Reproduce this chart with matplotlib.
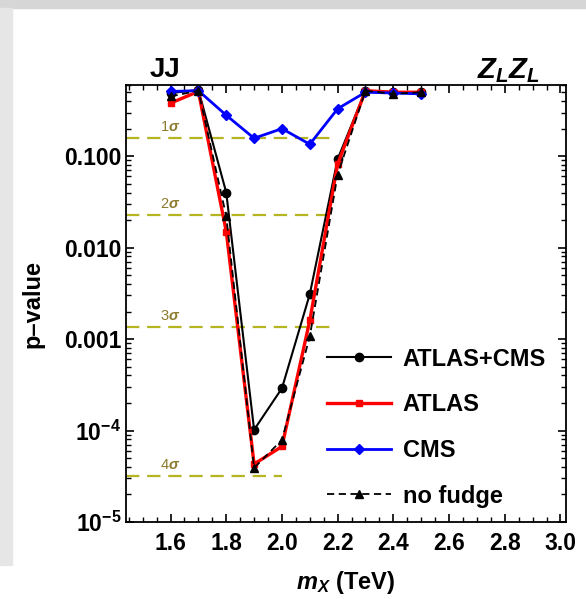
import numpy as np
import matplotlib
matplotlib.use("Agg")
import matplotlib.pyplot as plt
from matplotlib.patches import Rectangle
from matplotlib.ticker import FixedLocator, LogLocator, NullFormatter, MultipleLocator

plt.rcParams["font.family"] = ["Liberation Sans", "DejaVu Sans"]
plt.rcParams["font.weight"] = "bold"
plt.rcParams["mathtext.fontset"] = "custom"
plt.rcParams["mathtext.it"] = "Liberation Sans:italic:bold"
plt.rcParams["mathtext.rm"] = "Liberation Sans:bold"
plt.rcParams["mathtext.bf"] = "Liberation Sans:bold"

# masses (TeV)
mass = [1.6, 1.7, 1.8, 1.9, 2.0, 2.1, 2.2, 2.3, 2.4, 2.5]

# p-values
p_combined = [0.49, 0.53, 0.040, 1.02e-4, 2.9e-4, 3.1e-3, 0.093, 0.52, 0.50, 0.50]
p_atlas = [0.38, 0.51, 0.015, 4.3e-5, 6.7e-5, 1.6e-3, 0.082, 0.52, 0.50, 0.50]
p_cms = [0.51, 0.52, 0.28, 0.157, 0.20, 0.135, 0.33, 0.50, 0.49, 0.48]
p_nofudge = [0.45, 0.52, 0.022, 3.9e-5, 7.9e-5, 1.07e-3, 0.063, 0.52, 0.48, 0.50]

# one-sided significance levels
sigma_labels = ["1$\\sigma$", "2$\\sigma$", "3$\\sigma$", "4$\\sigma$"]
sigma_p = [0.1587, 0.02275, 0.00135, 3.17e-5]
sigma_xend = [2.18, 2.18, 2.18, 2.0]

xticks = [1.6, 1.8, 2.0, 2.2, 2.4, 2.6, 2.8, 3.0]
yticks = [1e-5, 1e-4, 1e-3, 1e-2, 1e-1]
ytick_labels = ["$10^{-5}$", "$10^{-4}$", "0.001", "0.010", "0.100"]

fig = plt.figure(figsize=(5.86, 5.99), dpi=100)
W, H = 586, 599
fig.add_artist(Rectangle((0, 1 - 8 / H), 1, 8 / H, transform=fig.transFigure,
                         color="#d6d6d6", zorder=0))
fig.add_artist(Rectangle((0, 1 - 565 / H), 12 / W, 557 / H, transform=fig.transFigure,
                         color="#e6e6e6", zorder=0))

ax = fig.add_axes([126 / W, 1 - 522 / H, 440 / W, 437 / H])
ax.set_xlim(1.44, 3.02)
ax.set_yscale("log")
ax.set_ylim(1e-5, 0.6)

gold = "#b5b522"
for lab, p, xe in zip(sigma_labels, sigma_p, sigma_xend):
    ax.plot([1.44, xe], [p, p], color=gold, lw=1.6, dashes=(6, 3.5), zorder=1)
    ax.text(1.6, p * 1.1, lab, color="#8c7a2c", fontsize=10.5, ha="center",
            va="bottom", fontweight="normal")

ax.plot(mass, p_combined, color="black", lw=1.5, marker="o", ms=6,
        label="ATLAS+CMS", zorder=3)
ax.plot(mass, p_atlas, color="red", lw=2.4, marker="s", ms=5,
        label="ATLAS", zorder=3)
ax.plot(mass, p_cms, color="blue", lw=2.0, marker="D", ms=5,
        label="CMS", zorder=3)
ax.plot(mass, p_nofudge, color="black", lw=1.3, ls=(0, (4, 2.5)), marker="^", ms=6,
        label="no fudge", zorder=4)

ax.xaxis.set_major_locator(FixedLocator(xticks))
ax.xaxis.set_minor_locator(MultipleLocator(0.05))
ax.set_xticklabels([f"{t:.1f}" for t in xticks])
ax.yaxis.set_major_locator(FixedLocator(yticks))
ax.set_yticklabels(ytick_labels)
ax.yaxis.set_minor_locator(LogLocator(base=10, subs=np.arange(2, 10)))
ax.yaxis.set_minor_formatter(NullFormatter())

ax.tick_params(which="both", direction="in", top=True, right=True, labelsize=16.5)
ax.tick_params(which="major", length=6, width=1.2)
ax.tick_params(axis="x", which="major", pad=7)
ax.tick_params(which="minor", length=3.5, width=1.0)
for s in ax.spines.values():
    s.set_linewidth(1.3)

ax.set_xlabel("$m_X$ (TeV)", fontsize=17, fontweight="bold", labelpad=10)
ax.set_ylabel("p\u2013value", fontsize=17, fontweight="bold", labelpad=14)

fig.text(150 / W, 1 - 77 / H, "JJ", fontsize=20, fontweight="bold", va="baseline")
fig.text(477 / W, 1 - 78 / H, "$Z_L Z_L$", fontsize=21, va="baseline")

ax.legend(loc="upper left", bbox_to_anchor=(0.457, 0.399), frameon=False,
          fontsize=17, handlelength=2.7, handletextpad=0.5, labelspacing=0.96,
          borderpad=0, borderaxespad=0)

fig.savefig("out.png", dpi=100)
